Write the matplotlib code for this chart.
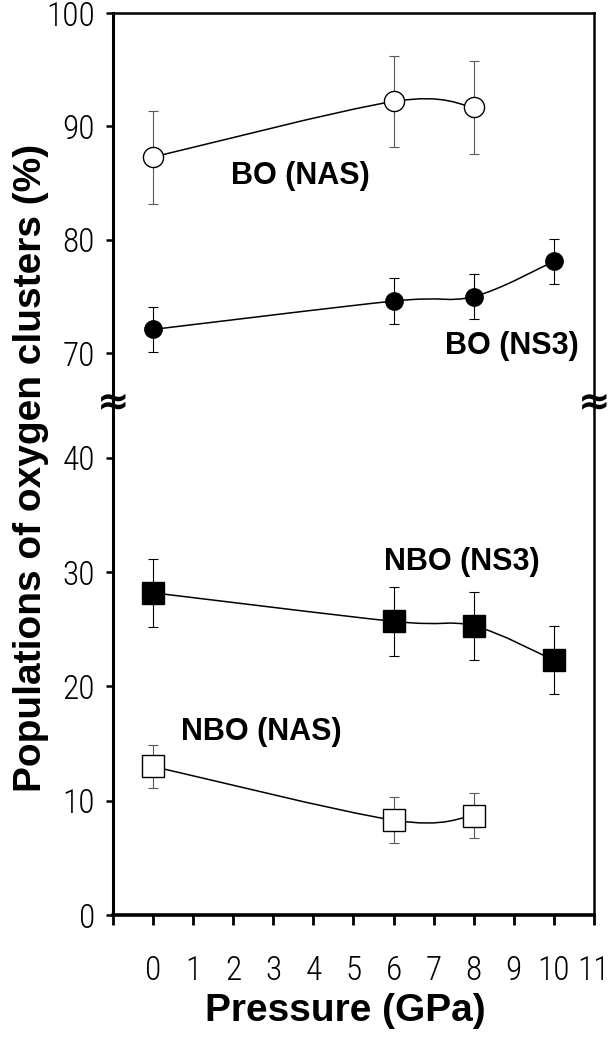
import matplotlib
matplotlib.use("Agg")
import matplotlib.pyplot as plt
import numpy as np
from matplotlib import font_manager as fm
from matplotlib.path import Path
from matplotlib.patches import PathPatch


# data
pressure = [0, 6, 8, 10]
bo_nas = [87.3, 92.2, 91.7]
bo_nas_err = [4.1, 4.0, 4.1]
bo_ns3 = [72.1, 74.6, 75.0, 78.1]
bo_ns3_err = [2.0, 2.0, 2.0, 2.0]
nbo_ns3 = [28.2, 25.7, 25.3, 22.3]
nbo_ns3_err = [3.0, 3.0, 3.0, 3.0]
nbo_nas = [13.0, 8.3, 8.7]
nbo_nas_err = [1.9, 2.0, 2.0]

x_ticks = list(range(-1, 12))
x_labels = [""] + [str(i) for i in range(0, 12)]
upper_ticks = [70, 80, 90, 100]
lower_ticks = [0, 10, 20, 30, 40]

BOLD = ["Liberation Sans", "DejaVu Sans"]


def narrow_font(size):
    # tick labels in the original are in a narrow face; take whatever is there
    files = [f.fname for f in fm.fontManager.ttflist]
    for key in ("LiberationSansNarrow-Regular", "RobotoCondensed-Light",
                "RobotoCondensed-Regular", "OpenSansCondensed-Light",
                "OpenSans_Condensed-Regular", "DejaVuSansCondensed.ttf"):
        for f in files:
            if key in f:
                return fm.FontProperties(fname=f, size=size)
    return fm.FontProperties(family="Liberation Sans", size=size)


def smooth_path(x, y):
    # excel-like smoothed line (catmull-rom as cubic beziers)
    pts = np.column_stack([x, y]).astype(float)
    n = len(pts)
    verts = [pts[0]]
    codes = [Path.MOVETO]
    for i in range(n - 1):
        p0 = pts[i - 1] if i > 0 else pts[i]
        p1 = pts[i]
        p2 = pts[i + 1]
        p3 = pts[i + 2] if i + 2 < n else pts[i + 1]
        verts += [p1 + (p2 - p0) / 6, p2 - (p3 - p1) / 6, p2]
        codes += [Path.CURVE4] * 3
    return Path(verts, codes)


def draw_series(ax, x, y, err, marker, size, filled):
    ax.add_patch(PathPatch(smooth_path(x, y), fill=False, lw=1.1, ec="k", zorder=2))
    ecol = "k" if filled else "0.35"
    ax.errorbar(x, y, yerr=err, fmt="none", ecolor=ecol, elinewidth=0.8,
                capsize=3.5, capthick=0.8, zorder=3)
    ax.plot(x, y, ls="none", marker=marker, ms=size,
            mfc="k" if filled else "white", mec="k", mew=1.0, zorder=4)


fig = plt.figure(figsize=(6.14, 10.37), dpi=100)
left, right = 113 / 614, 594 / 614
y_top, y_brk, y_bot = 1 - 13 / 1037, 1 - 402 / 1037, 1 - 915 / 1037
ax_up = fig.add_axes([left, y_brk, right - left, y_top - y_brk])
ax_lo = fig.add_axes([left, y_bot, right - left, y_brk - y_bot])

for ax in (ax_up, ax_lo):
    ax.set_xlim(-1, 11)
    ax.set_xticks(x_ticks)
    for s in ax.spines.values():
        s.set_linewidth(1.8)
    ax.spines["left"].set_linewidth(2.2)
    ax.tick_params(axis="y", direction="out", length=5, width=1.8, pad=8)

ax_up.set_ylim(65.7, 100)
ax_up.set_yticks(upper_ticks)
ax_up.spines["bottom"].set_visible(False)
ax_up.tick_params(axis="x", bottom=False, labelbottom=False)

ax_lo.set_ylim(0, 44.9)
ax_lo.set_yticks(lower_ticks)
ax_lo.spines["top"].set_visible(False)
ax_lo.spines["bottom"].set_linewidth(2.6)
ax_lo.set_xticklabels(x_labels)
ax_lo.tick_params(axis="x", direction="out", length=7, width=2, pad=22)

tick_fp = narrow_font(24)
for ax in (ax_up, ax_lo):
    for lab in ax.get_yticklabels() + ax.get_xticklabels():
        lab.set_fontproperties(tick_fp)

draw_series(ax_up, pressure[:3], bo_nas, bo_nas_err, "o", 14.5, False)
draw_series(ax_up, pressure, bo_ns3, bo_ns3_err, "o", 12.5, True)
draw_series(ax_lo, pressure, nbo_ns3, nbo_ns3_err, "s", 16, True)
draw_series(ax_lo, pressure[:3], nbo_nas, nbo_nas_err, "s", 16, False)

ax_up.text(3.68, 85.6, "BO (NAS)", ha="center", va="center", fontsize=22,
           fontweight="bold", family=BOLD)
ax_up.text(8.96, 70.65, "BO (NS3)", ha="center", va="center", fontsize=22,
           fontweight="bold", family=BOLD)
ax_lo.text(7.7, 30.9, "NBO (NS3)", ha="center", va="center", fontsize=22,
           fontweight="bold", family=BOLD)
ax_lo.text(2.7, 16.0, "NBO (NAS)", ha="center", va="center", fontsize=22,
           fontweight="bold", family=BOLD)

# break marks on both vertical spines
for xf in (left, right):
    fig.text(xf, y_brk, "\u2248", ha="center", va="center", fontsize=28,
             fontweight="bold", family=["DejaVu Sans"])

fig.text(0.05, 1 - 468 / 1037, "Populations of oxygen clusters (%)",
         rotation=90, ha="center", va="center", fontsize=28,
         fontweight="bold", family=BOLD)
fig.text(345 / 614, 1 - 1011 / 1037, "Pressure (GPa)", ha="center",
         va="center", fontsize=28, fontweight="bold", family=BOLD)

fig.savefig("out.png", dpi=100)
